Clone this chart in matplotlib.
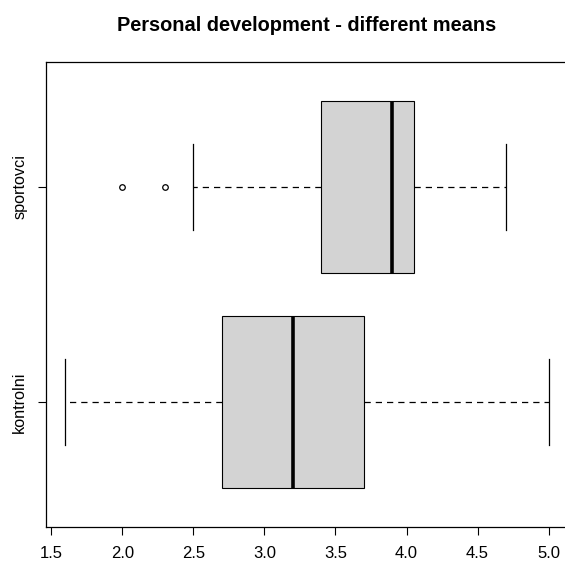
import matplotlib
matplotlib.use("Agg")
import matplotlib.pyplot as plt

plt.rcParams['font.family'] = ['Liberation Sans', 'DejaVu Sans']

# skupiny a souhrnne statistiky (min, q1, median, q3, max, odlehle hodnoty)
groups = ['kontrolni', 'sportovci']
whisker_low = [1.6, 2.5]
q1 = [2.7, 3.4]
median = [3.2, 3.9]
q3 = [3.7, 4.05]
whisker_high = [5.0, 4.7]
outliers = [[], [2.0, 2.3]]
x_ticks = [1.5, 2.0, 2.5, 3.0, 3.5, 4.0, 4.5, 5.0]

stats = []
for i, name in enumerate(groups):
    stats.append({
        'label': name,
        'whislo': whisker_low[i],
        'q1': q1[i],
        'med': median[i],
        'q3': q3[i],
        'whishi': whisker_high[i],
        'fliers': outliers[i],
    })

fig = plt.figure(figsize=(5.65, 5.63), dpi=100)
ax = fig.add_axes([46 / 565, 1 - 527 / 563, 522 / 565, 465 / 563])

ax.bxp(stats, positions=[1, 2], vert=False, widths=0.8, patch_artist=True,
       boxprops=dict(facecolor='#d3d3d3', edgecolor='black', linewidth=0.8),
       medianprops=dict(color='black', linewidth=2.6),
       whiskerprops=dict(color='black', linewidth=0.9, linestyle=(0, (5, 4))),
       capprops=dict(color='black', linewidth=0.9),
       capwidths=0.4,
       flierprops=dict(marker='o', markersize=4, markerfacecolor='none',
                       markeredgecolor='black', markeredgewidth=0.9))

ax.set_xlim(1.464, 5.136)
ax.set_ylim(0.42, 2.58)
ax.set_xticks(x_ticks)
ax.set_xticklabels([f"{t:.1f}" for t in x_ticks], fontsize=12)
ax.set_yticks([1, 2])
ax.set_yticklabels(groups, fontsize=11.7, rotation=90, va='center')
ax.tick_params(length=5.5, width=0.8, pad=8)

for s in ax.spines.values():
    s.set_linewidth(0.9)

ax.set_title('Personal development - different means', fontsize=14.4,
             fontweight='bold', pad=22)

fig.savefig('out.png', dpi=100)
